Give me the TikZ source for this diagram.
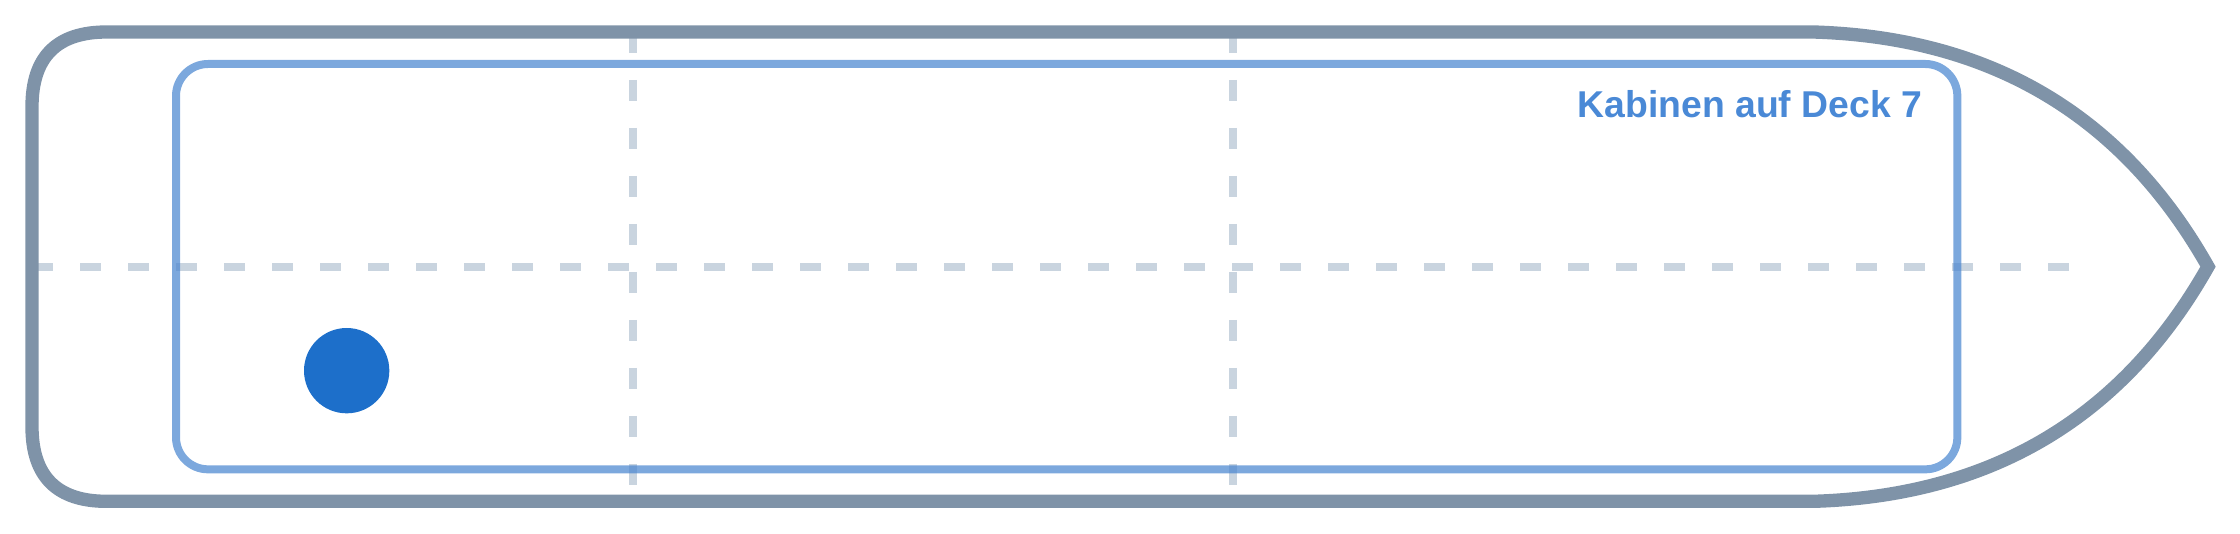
\documentclass[tikz,border=0pt]{standalone}
\usepackage{fontspec}
\setmainfont{Liberation Sans}
\definecolor{hullc}{HTML}{7F93A8}
\definecolor{cabinc}{HTML}{4A86D0}
\definecolor{gridc}{HTML}{94A9C0}
\definecolor{dotc}{HTML}{1D6FCA}
\definecolor{labelc}{HTML}{4A89D6}
\begin{document}
\begin{tikzpicture}[x=1pt,y=-1pt,
  hull/.style={draw=hullc, line width=5pt, line join=miter},
  cabin/.style={draw=cabinc, draw opacity=0.72, line width=3pt, rounded corners=12pt},
  gridline/.style={draw=gridc, draw opacity=0.5, line width=3pt, dash pattern=on 8pt off 10pt},
]
\useasboundingbox (0,0) rectangle (840,200);
% centre lines
\draw[gridline] (12,100) -- (780,100);
\draw[gridline] (237.5,12) -- (237.5,188);
\draw[gridline] (462.5,12) -- (462.5,188);
% cabin area
\draw[cabin] (66,24) rectangle (734,176);
% hull
\draw[hull] (40,12) -- (680,12)
  .. controls (746.67,14) and (796,43.33) .. (828,100)
  .. controls (796,156.67) and (746.67,186) .. (680,188)
  -- (40,188)
  .. controls (21.33,188) and (12,178.67) .. (12,160)
  -- (12,40)
  .. controls (12,21.33) and (21.33,12) .. (40,12) -- cycle;
% marker
\node[circle, fill=dotc, minimum size=32pt, inner sep=0pt] (dot) at (130,139) {};
% label
\node[anchor=base east, inner sep=0pt, text=labelc, font=\fontsize{14}{16}\selectfont\bfseries] (label) at (721,44) {Kabinen auf Deck 7};
\end{tikzpicture}
\end{document}
